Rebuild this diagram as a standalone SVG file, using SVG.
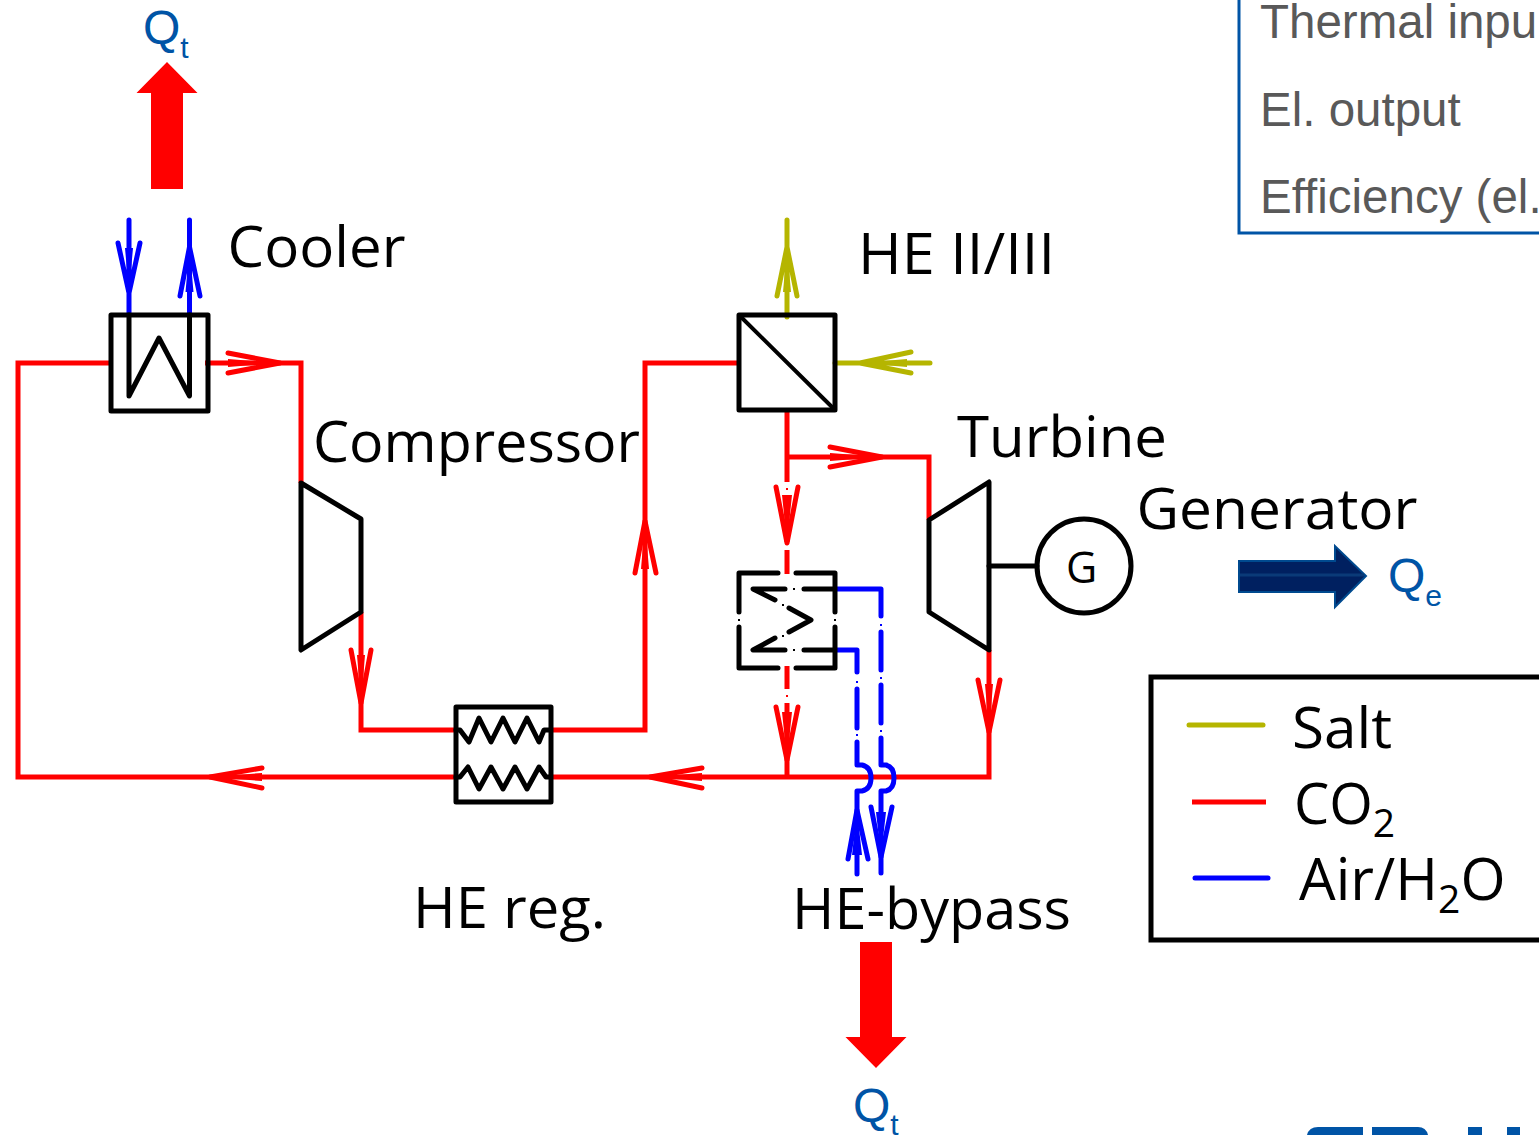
<svg xmlns="http://www.w3.org/2000/svg" width="1539" height="1135" viewBox="0 0 1539 1135">
<style>
.k{fill:none;stroke:#000;stroke-width:5;stroke-linecap:round;stroke-linejoin:round}
.r{fill:none;stroke:#f00;stroke-width:5;stroke-linejoin:miter}
.b{fill:none;stroke:#00f;stroke-width:5;stroke-linecap:round;stroke-linejoin:round}
.y{fill:none;stroke:#b5b500;stroke-width:5;stroke-linecap:round;stroke-linejoin:round}
.rh{fill:none;stroke:#f00;stroke-width:5;stroke-linecap:round;stroke-linejoin:round}
.dk{fill:none;stroke:#000;stroke-width:2}
.dr{fill:none;stroke:#f00;stroke-width:2}
.db{fill:none;stroke:#00f;stroke-width:2}
.h{fill:#f00;stroke:none}
.bh{fill:#00f;stroke:none}
.rf{fill:#f00;stroke:none}
.yf{fill:#b5b500;stroke:none}
.l{font-family:"Open Sans","Liberation Sans",sans-serif;font-size:57px;fill:#000}
.q{font-family:"Liberation Sans",Arial,sans-serif;font-size:48px;fill:#0054a6}
.t{font-family:"Liberation Sans",Arial,sans-serif;font-size:47.500px;fill:#595959}
.s{font-size:30px}
.sl{font-size:39px}
</style>
<g id="connectors">
<path class="r" d="M112 363H18V777H456"/>
<path class="r" d="M205 363H301V483"/>
<path class="r" d="M361 612V730H456"/>
<path class="r" d="M550 730H645V363H740"/>
<path class="r" d="M550 777H989V650"/>
<path class="r" d="M787 457H929V520"/>
<path class="r" d="M787 410V482M787 497V542M787 550V574M787 666V689M787 703V777"/>
<path class="dr" d="M787 488v2M787 695v2"/>
<path class="rh" d="M262 768L210 777L262 788M228 353L280 363L228 373M351 650L361 703L371 650M635 573L645 521L656 573M830 447L882 457L830 467M978 680L989 732L1000 680M702 768L650 777L702 788M776 487L787 543L798 487M776 707L787 760L798 707"/>
<path class="rf" d="M210 777L262 773V781ZM280 363L228 359V367ZM361 703L357 655H365ZM645 521L641 569H649ZM882 457L830 453V461ZM989 732L985 684H993ZM650 777L702 773V781ZM787 543L782 495H792ZM787 760L782 712H792Z"/>
<path class="y" d="M930 363H835M787 317V220M911 352L860 363L911 373M777 296L787 247L797 296"/>
<path class="yf" d="M860 363L907 359V367ZM787 247L783 292H791Z"/>
<path class="b" d="M129 220V315M189.500 220V315M118 243L129 293L140 243M180 296L189.500 247L200 296"/>
<path class="bh" d="M129 293L125 248H133ZM189.500 247L185.500 292H193.500Z"/>
<path class="b" d="M835 589H881V616M881 632V670M881 685V723M881 738V765H886Q894 767 894 778Q894 789 886 791H881V825M881 838V873"/>
<path class="b" d="M835 650H857V672M857 689V728M857 742V765H862Q871 767 871 778Q871 789 862 791H857V825M857 838V874"/>
<path class="db" d="M881 624v2M881 677v2M881 730v2M881 831v2M857 681v2M857 734v2M857 831v2"/>
<path class="b" d="M871 807L881 857L892 807M848 859L857 810L868 859"/>
<path class="bh" d="M881 857L876 812H886ZM857 810L852 855H862Z"/>
</g>
<g id="cooler"><rect class="k" x="111" y="315" width="97" height="96"/><path class="k" d="M129 315V396L159 338L189.500 396V315"/></g>
<g id="compressor"><path class="k" d="M301 483L361 519V612L301 650Z"/></g>
<g id="he-reg"><rect class="k" x="456" y="707" width="95" height="95"/><path class="k" d="M456 730H460L469 742L479 718L491 742L503 718L515 742L527 718L539 742L544 730H550"/><path class="k" d="M456 777H460L468 767L479 789L491 767L503 789L515 767L527 789L539 767L546 777H550"/></g>
<g id="he-2-3"><rect class="k" x="739" y="315" width="96" height="95"/><path class="k" style="stroke-width:4" d="M740 316L835 410"/></g>
<g id="he-bypass"><path class="k" d="M778 573H739V612M739 627V668H778M796 668H835V627M835 612V573H796"/><path class="dk" d="M739 619v2M835 619v2"/><path class="k" d="M785 589H753L775 600M789 608L811 620L789 632M775 638L753 650H785M804 589H833M804 650H833"/><path class="dk" d="M793 589h2M793 650h2M782 605h2M782 636h2"/></g>
<g id="turbine"><path class="k" d="M929 520L989 482V650L929 612Z"/></g>
<g id="generator"><path class="k" d="M989 566H1037"/><circle class="k" cx="1084" cy="566" r="47"/><text class="l" x="1066" y="583" style="font-size:43px">G</text></g>
<g id="qt-top"><path class="h" d="M151 189V93H136.500L167 62L197.500 93H183V189Z"/><text class="q" x="143" y="44">Q<tspan class="s" dy="14">t</tspan></text></g>
<g id="qt-bottom"><path class="h" d="M860 942V1037H845.500L876 1068L906.500 1037H892V942Z"/><text class="q" x="853" y="1122">Q<tspan class="s" dy="13">t</tspan></text></g>
<g id="qe"><path d="M1239 561H1335V546L1366 576L1335 607V592H1239Z" fill="#002060" stroke="#004a8f" stroke-width="2"/><path d="M1240 575H1364" stroke="#0a3a78" stroke-width="3"/><text class="q" x="1388" y="592">Q<tspan class="s" dy="14">e</tspan></text></g>
<g id="labels">
<text class="l" x="227.500" y="267" textLength="178" lengthAdjust="spacingAndGlyphs">Cooler</text>
<text class="l" x="313" y="462" textLength="327" lengthAdjust="spacingAndGlyphs">Compressor</text>
<text class="l" x="858" y="274" textLength="197" lengthAdjust="spacingAndGlyphs">HE II/III</text>
<text class="l" x="957" y="457" textLength="210" lengthAdjust="spacingAndGlyphs">Turbine</text>
<text class="l" x="1136.500" y="529" textLength="281" lengthAdjust="spacingAndGlyphs">Generator</text>
<text class="l" x="413" y="928" textLength="193" lengthAdjust="spacingAndGlyphs">HE reg.</text>
<text class="l" x="792" y="929" textLength="279" lengthAdjust="spacingAndGlyphs">HE-bypass</text>
</g>
<g id="legend">
<path d="M1539 677H1151V940H1539" fill="none" stroke="#000" stroke-width="5"/>
<path class="y" d="M1189 725H1263"/><path class="r" d="M1192 802H1266"/><path class="b" d="M1195 878H1268"/>
<text class="l" x="1292" y="748" textLength="100" lengthAdjust="spacingAndGlyphs">Salt</text>
<text class="l" x="1294" y="824" style="font-size:56px">CO<tspan class="sl" dy="13">2</tspan></text>
<text class="l" x="1299" y="900" style="font-size:58px">Air/H<tspan class="sl" dy="13">2</tspan><tspan dy="-13">O</tspan></text>
</g>
<g id="info-panel">
<path d="M1239 0V233H1539" fill="none" stroke="#0054a6" stroke-width="3"/>
<text class="t" x="1260" y="38">Thermal inpu</text>
<text class="t" x="1260" y="125.500">El. output</text>
<text class="t" x="1260" y="212.500">Efficiency (el.</text>
</g>
<g id="logo-fragment" fill="#0054a6">
<path d="M1307 1135V1135Q1309 1127 1318 1127H1363V1135Z"/>
<path d="M1372 1127H1418Q1426 1127 1428 1135H1372Z"/>
<rect x="1468" y="1127" width="14" height="8"/>
<rect x="1507" y="1127" width="13" height="8"/>
</g>
</svg>
